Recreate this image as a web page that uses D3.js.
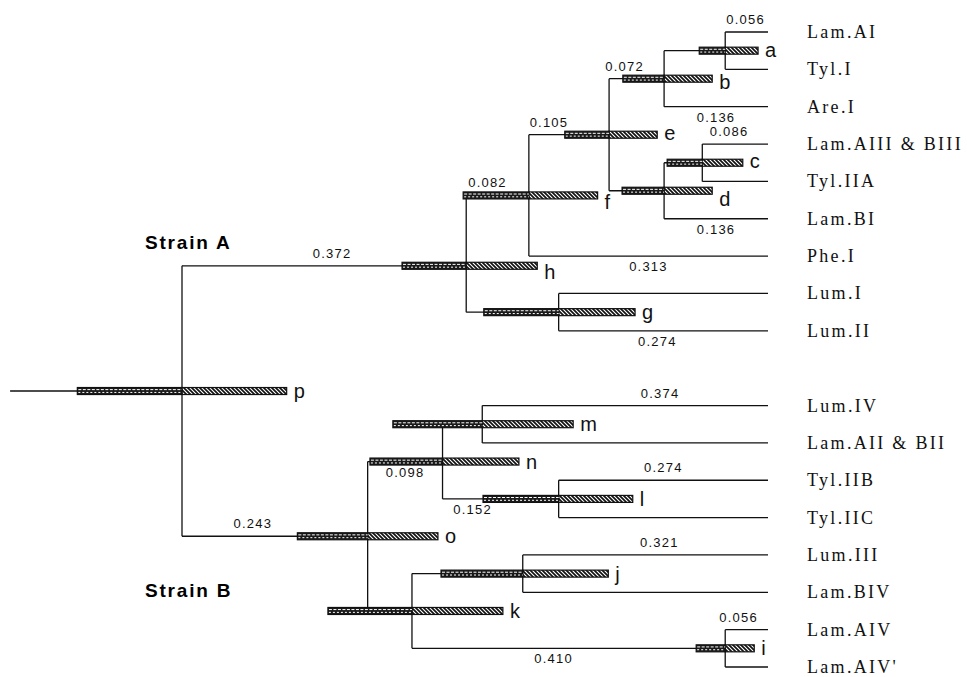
<!DOCTYPE html>
<html>
<head>
<meta charset="utf-8">
<script src="https://cdn.jsdelivr.net/npm/d3@7"></script>
<style>
  body { margin: 0; background: #fff; }
  svg { display: block; }
</style>
</head>
<body>
<svg id="chart" width="967" height="677"></svg>
<script>
// tips, top to bottom, with the internal node they hang from
var leafNames = ["Lam.AI", "Tyl.I", "Are.I", "Lam.AIII & BIII", "Tyl.IIA", "Lam.BI", "Phe.I", "Lum.I", "Lum.II",
   "Lum.IV", "Lam.AII & BII", "Tyl.IIB", "Tyl.IIC", "Lum.III", "Lam.BIV", "Lam.AIV", "Lam.AIV'"]
var leafParent = ["a", "a", "b", "c", "c", "d", "f", "g", "g", "m", "m", "l", "l", "j", "j", "i", "i"]
var strainOfLeaf = ["A", "A", "A", "A", "A", "A", "A", "A", "A", "B", "B", "B", "B", "B", "B", "B", "B"]

// internal nodes: depth from the tips and the interval drawn as a hatched bar
var nodeNames  = ["p", "h", "f", "e", "b", "a", "d", "c", "g", "o", "n", "m", "l", "k", "j", "i"]
var nodeParent = [null, "p", "h", "f", "e", "b", "e", "d", "h", "p", "o", "n", "n", "o", "k", "k"]
var nodeDepth  = [0.767, 0.395, 0.313, 0.208, 0.136, 0.056, 0.136, 0.086, 0.274, 0.524, 0.426, 0.374, 0.274, 0.466, 0.321, 0.056]
var ciOld      = [0.904, 0.479, 0.399, 0.266, 0.190, 0.090, 0.191, 0.132, 0.372, 0.616, 0.521, 0.491, 0.373, 0.576, 0.428, 0.094]
var ciYoung    = [0.630, 0.302, 0.223, 0.145, 0.073, 0.013, 0.073, 0.033, 0.174, 0.432, 0.326, 0.255, 0.177, 0.347, 0.209, 0.018]

// branch length labels, keyed by the child end of the branch
var branchChild = ["Lam.AI", "b", "Are.I", "Lam.AIII & BIII", "Lam.BI", "e", "f", "Phe.I", "h", "Lum.II",
   "o", "n", "Lum.IV", "l", "Tyl.IIB", "Lum.III", "i", "Lam.AIV"]
var branchText = ["0.056", "0.072", "0.136", "0.086", "0.136", "0.105", "0.082", "0.313", "0.372", "0.274",
   "0.243", "0.098", "0.374", "0.152", "0.274", "0.321", "0.410", "0.056"]
var branchBelow = [false, false, true, false, true, false, false, true, false, true,
   false, true, false, true, false, false, true, false]

var rootStem = 0.992

var svg = d3.select("#chart")

var xScale = d3.scaleLinear().domain([nodeDepth[0], 0]).range([182, 768])
// one empty slot between the two strains
var yScale = d3.scaleLinear().domain([0, 17]).range([32, 667])

// small hand nudges, as in the printed figure
var nodeShiftY = { h: 12, p: -10 }
var letterDy = { b: 10, d: 15, f: 14, h: 13, e: 5, c: 5, a: 6 }
var numberDx = { "Lam.AI": -1, "b": -12, "Lam.AIII & BIII": -6, "e": -20, "f": -10, "h": 8, "Lum.II": -6,
   "o": -22, "Lum.IV": 35, "l": -28, "Lum.III": 14, "i": -15, "Lam.AIV": -8 }

// build node table
var nodes = {}
leafNames.forEach(function(name, i) {
   var slot = i + (strainOfLeaf[i] == "B" ? 1 : 0)
   nodes[name] = { name: name, leaf: true, depth: 0, parent: leafParent[i], y: yScale(slot), children: [] }
})
nodeNames.forEach(function(name, i) {
   nodes[name] = { name: name, leaf: false, depth: nodeDepth[i], parent: nodeParent[i],
      lo: ciOld[i], hi: ciYoung[i], children: [] }
})
Object.values(nodes).forEach(function(n) {
   if (n.parent) nodes[n.parent].children.push(n)
})
function setY(n) {
   if (n.leaf) return n.y
   n.y = d3.mean(n.children, setY) + (nodeShiftY[n.name] || 0)
   return n.y
}
setY(nodes["p"])

var internal = nodeNames.map(function(k) { return nodes[k] })
var all = Object.values(nodes)

// patterns
var defs = svg.append("defs")
var hatch = defs.append("pattern")
   .attr("id", "hatch")
   .attr("patternUnits", "userSpaceOnUse")
   .attr("width", 4)
   .attr("height", 4)
hatch.append("rect").attr("width", 4).attr("height", 4).attr("fill", "#fff")
hatch.append("path")
   .attr("d", "M-1,-1 L5,5 M-1,3 L1,5 M3,-1 L5,1")
   .attr("stroke", "#111")
   .attr("stroke-width", 1.7)

var tree = svg.append("g").attr("fill", "none").attr("stroke", "#111").attr("stroke-width", 1.3)

// root stem
tree.append("line")
   .attr("x1", xScale(rootStem)).attr("x2", xScale(nodes["p"].depth))
   .attr("y1", nodes["p"].y).attr("y2", nodes["p"].y)

// horizontal branches
tree.selectAll(".branch")
   .data(all.filter(function(n) { return n.parent }))
   .join("line")
   .attr("class", "branch")
   .attr("x1", function(n) { return xScale(nodes[n.parent].depth) })
   .attr("x2", function(n) { return xScale(n.depth) })
   .attr("y1", function(n) { return n.y })
   .attr("y2", function(n) { return n.y })

// vertical connectors
tree.selectAll(".vert")
   .data(internal)
   .join("line")
   .attr("class", "vert")
   .attr("x1", function(n) { return xScale(n.depth) })
   .attr("x2", function(n) { return xScale(n.depth) })
   .attr("y1", function(n) { return d3.min(n.children, function(c) { return c.y }) })
   .attr("y2", function(n) { return d3.max(n.children, function(c) { return c.y }) })

// interval bars
var barH = 7
var bars = svg.append("g").selectAll("g").data(internal).join("g")
bars.append("rect")
   .attr("x", function(n) { return xScale(n.depth) })
   .attr("y", function(n) { return n.y - barH / 2 })
   .attr("width", function(n) { return xScale(n.hi) - xScale(n.depth) })
   .attr("height", barH)
   .attr("fill", "url(#hatch)")
   .attr("stroke", "#111")
   .attr("stroke-width", 1.2)
bars.append("rect")
   .attr("x", function(n) { return xScale(n.lo) })
   .attr("y", function(n) { return n.y - barH / 2 })
   .attr("width", function(n) { return xScale(n.depth) - xScale(n.lo) })
   .attr("height", barH)
   .attr("fill", "#1a1a1a")
   .attr("stroke", "#111")
   .attr("stroke-width", 1.2)
;[-1.4, 1.4].forEach(function(off) {
   bars.append("line")
      .attr("x1", function(n) { return xScale(n.lo) + 1 })
      .attr("x2", function(n) { return xScale(n.depth) })
      .attr("y1", function(n) { return n.y + off })
      .attr("y2", function(n) { return n.y + off })
      .attr("stroke", "#fff")
      .attr("stroke-width", 1)
      .attr("stroke-dasharray", off < 0 ? "3,1.5" : "2,2")
})
// node line runs through the bar
tree.selectAll(".through")
   .data(internal)
   .join("line")
   .attr("class", "through")
   .attr("x1", function(n) { return xScale(n.depth) })
   .attr("x2", function(n) { return xScale(n.depth) })
   .attr("y1", function(n) { return n.y - barH / 2 })
   .attr("y2", function(n) { return n.y + barH / 2 })
   .raise()

// node letters
svg.append("g").selectAll("text")
   .data(internal)
   .join("text")
   .attr("x", function(n) { return xScale(n.hi) + 7 })
   .attr("y", function(n) { return n.y + (letterDy[n.name] || 7) })
   .attr("font-family", "Liberation Sans, Arial, sans-serif")
   .attr("font-size", 20)
   .attr("fill", "#111")
   .text(function(n) { return n.name })

// branch length numbers
svg.append("g").selectAll("text")
   .data(branchChild)
   .join("text")
   .attr("x", function(c) {
      var n = nodes[c]
      return (xScale(n.depth) + xScale(nodes[n.parent].depth)) / 2 + (numberDx[c] || 0)
   })
   .attr("y", function(c, i) { return nodes[c].y + (branchBelow[i] ? 15 : -8) })
   .attr("text-anchor", "middle")
   .attr("font-family", "Liberation Sans, Arial, sans-serif")
   .attr("font-size", 13)
   .attr("letter-spacing", 1.2)
   .attr("fill", "#111")
   .text(function(c, i) { return branchText[i] })

// tip labels
svg.append("g").selectAll("text")
   .data(leafNames)
   .join("text")
   .attr("x", 807)
   .attr("y", function(d) { return nodes[d].y + 6 })
   .attr("font-family", "Liberation Serif, Times New Roman, serif")
   .attr("font-size", 18)
   .attr("letter-spacing", 2.3)
   .attr("fill", "#111")
   .text(function(d) { return d })

// strain captions
svg.append("text")
   .attr("x", 145).attr("y", 249)
   .attr("font-family", "Liberation Sans, Arial, sans-serif")
   .attr("font-weight", "bold").attr("font-size", 19).attr("letter-spacing", 1.8)
   .text("Strain A")
svg.append("text")
   .attr("x", 145).attr("y", 597)
   .attr("font-family", "Liberation Sans, Arial, sans-serif")
   .attr("font-weight", "bold").attr("font-size", 19).attr("letter-spacing", 1.8)
   .text("Strain B")
</script>
</body>
</html>
